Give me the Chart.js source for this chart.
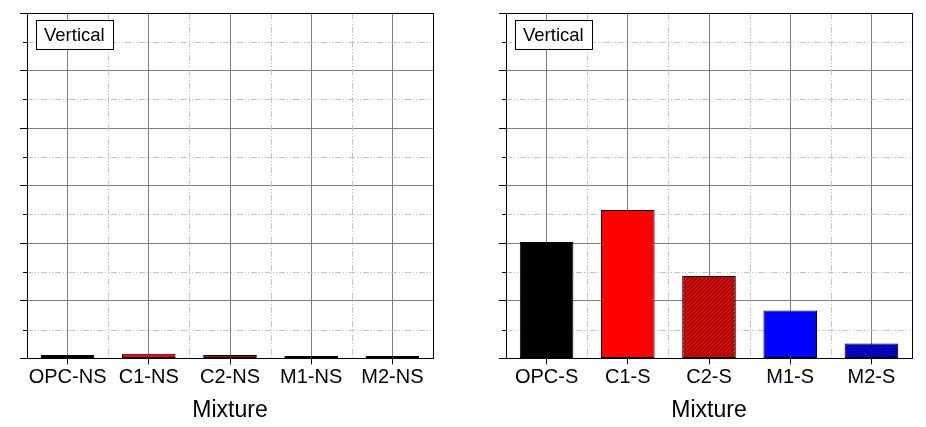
<!DOCTYPE html>
<html><head><meta charset="utf-8">
<script src="https://cdn.jsdelivr.net/npm/chart.js@4"></script>
<style>
html,body{margin:0;padding:0;background:#fff;width:926px;height:427px;overflow:hidden}
.box{position:absolute;top:0;width:463px;height:427px}
</style></head><body>
<div class="box" style="left:0"><canvas id="c1"></canvas></div>
<div class="box" style="left:463px"><canvas id="c2"></canvas></div>
<script>
const labelsNS = ['OPC-NS', 'C1-NS', 'C2-NS', 'M1-NS', 'M2-NS'];
const labelsS = ['OPC-S', 'C1-S', 'C2-S', 'M1-S', 'M2-S'];
const valuesNS = [0.6, 0.8, 0.6, 0.4, 0.4];
const valuesS = [20.2, 25.8, 14.3, 8.3, 2.6];
const yMin = 0, yMax = 60, yMajorStep = 10;
const yMinorTicks = [5, 15, 25, 35, 45, 55];
const panelLabel = 'Vertical';
const xTitle = 'Mixture';

const FONT = "'Liberation Sans', Arial, sans-serif";

function hatch(bg, fg) {
  const c = document.createElement('canvas');
  c.width = 4; c.height = 4;
  const g = c.getContext('2d');
  g.fillStyle = bg; g.fillRect(0, 0, 4, 4);
  g.strokeStyle = fg; g.lineWidth = 1;
  g.beginPath();
  g.moveTo(-1, 5); g.lineTo(5, -1);
  g.moveTo(-1, 1); g.lineTo(1, -1);
  g.moveTo(3, 5); g.lineTo(5, 3);
  g.stroke();
  return g.createPattern(c, 'repeat');
}
const barColors = ['#000000', '#ff0000', hatch('#e60000', '#400000'), '#0000ff', hatch('#0000e6', '#000040')];

function line(ctx, x1, y1, x2, y2) { ctx.beginPath(); ctx.moveTo(x1, y1); ctx.lineTo(x2, y2); ctx.stroke(); }

const framePlugin = {
  id: 'frame',
  beforeDatasetsDraw(chart) {
    const { ctx, chartArea: a, scales: { x, y } } = chart;
    ctx.save();
    ctx.strokeStyle = '#c4c4c4'; ctx.lineWidth = 1;
    ctx.setLineDash([6, 2, 1, 2, 1, 2]);
    yMinorTicks.forEach(v => {
      const py = Math.round(y.getPixelForValue(v)) + 0.5;
      line(ctx, a.left, py, a.right, py);
    });
    for (let i = 0; i < x.ticks.length - 1; i++) {
      const px = Math.round((x.getPixelForTick(i) + x.getPixelForTick(i + 1)) / 2) + 0.5;
      line(ctx, px, a.top, px, a.bottom);
    }
    ctx.setLineDash([]);
    ctx.strokeStyle = '#000';
    yMinorTicks.forEach(v => {
      const py = Math.round(y.getPixelForValue(v)) + 0.5;
      line(ctx, a.left - 4, py, a.left, py);
    });
    ctx.restore();
  },
  afterDraw(chart) {
    const { ctx, chartArea: a } = chart;
    ctx.save();
    ctx.strokeStyle = '#000'; ctx.lineWidth = 1;
    ctx.strokeRect(Math.round(a.left) + 0.5, Math.round(a.top) + 0.5, Math.round(a.right - a.left), Math.round(a.bottom - a.top));
    const bx = Math.round(a.left) + 9, by = Math.round(a.top) + 7, bw = 77, bh = 29;
    ctx.fillStyle = '#fff'; ctx.fillRect(bx, by, bw, bh);
    ctx.strokeRect(bx + 0.5, by + 0.5, bw, bh);
    ctx.fillStyle = '#000'; ctx.font = '18.5px ' + FONT;
    ctx.textBaseline = 'middle'; ctx.textAlign = 'left';
    ctx.fillText(panelLabel, bx + 8, by + bh / 2 + 1);
    ctx.restore();
  }
};

function makeChart(id, labels, values, padL, padR) {
  return new Chart(document.getElementById(id), {
    type: 'bar',
    data: {
      labels: labels,
      datasets: [{
        data: values,
        backgroundColor: barColors,
        borderColor: '#000',
        borderWidth: 1,
        borderSkipped: false,
        barPercentage: 0.66,
        categoryPercentage: 1
      }]
    },
    options: {
      responsive: true,
      maintainAspectRatio: false,
      animation: false,
      layout: { padding: { left: padL, right: padR, top: 13, bottom: 1 } },
      plugins: { legend: { display: false }, tooltip: { enabled: false } },
      scales: {
        x: {
          type: 'category',
          offset: true,
          grid: { offset: false, color: '#808080', lineWidth: 1, tickColor: '#000', tickLength: 6 },
          border: { color: '#000', width: 1 },
          ticks: { color: '#000', font: { family: FONT, size: 20 }, padding: 1, maxRotation: 0, autoSkip: false },
          title: { display: true, text: xTitle, color: '#000', font: { family: FONT, size: 23 }, padding: { top: 6, bottom: 2 } }
        },
        y: {
          min: yMin, max: yMax,
          grid: { color: '#808080', lineWidth: 1, tickColor: '#000', tickLength: 7 },
          border: { color: '#000', width: 1 },
          ticks: { display: false, stepSize: yMajorStep }
        }
      }
    },
    plugins: [framePlugin]
  });
}

makeChart('c1', labelsNS, valuesNS, 20, 30);
makeChart('c2', labelsS, valuesS, 36, 14);
</script>
</body></html>
